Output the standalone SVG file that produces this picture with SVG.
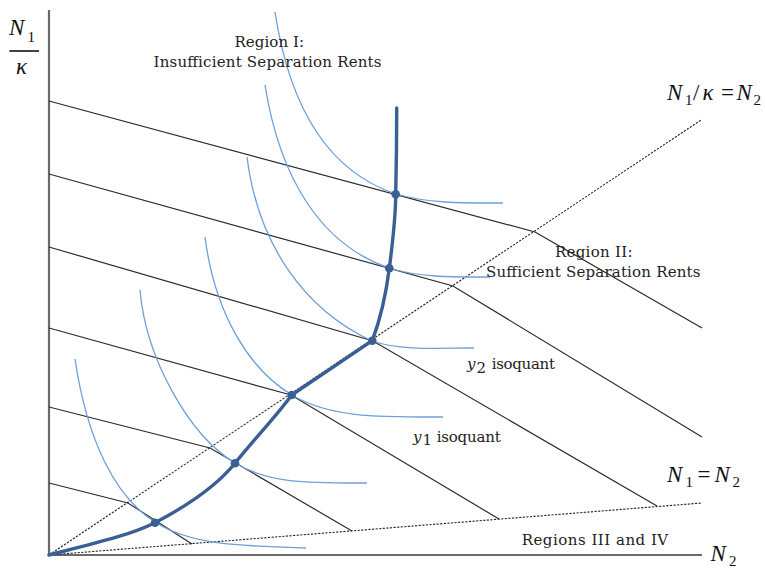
<svg xmlns="http://www.w3.org/2000/svg" width="765" height="568" viewBox="0 0 765 568">
<style>
.bl{fill:none;stroke:#2b2b2b;stroke-width:1.2}
.dot{fill:none;stroke:#222;stroke-width:1.1;stroke-dasharray:2.2 1.4}
.iso{fill:none;stroke:#6d9fd8;stroke-width:1.3}
.ep{fill:none;stroke:#3a5f94;stroke-width:3.4;stroke-linecap:round;stroke-linejoin:round}
.pt{fill:#3a5f94}
.ax{stroke:#6a6a6a;stroke-width:2.2}
.lab{font-family:'DejaVu Serif','Liberation Serif',serif;font-size:15px;fill:#222}
.m{font-family:'Liberation Serif','DejaVu Serif',serif;font-style:italic;font-size:23px;fill:#111}
.ms{font-family:'Liberation Serif','DejaVu Serif',serif;font-size:15px;fill:#111}
.mu{font-family:'Liberation Serif','DejaVu Serif',serif;font-size:23px;fill:#111}
</style>
<rect width="765" height="568" fill="#ffffff"/>
<g id="axes">
<line class="ax" x1="49" y1="10" x2="49" y2="556"/>
<line class="ax" x1="48" y1="555" x2="702" y2="555"/>
</g>
<g id="connectors">
<polyline class="bl" points="49,101 535,232 702,328"/>
<polyline class="bl" points="49,174 453,286 702,437"/>
<polyline class="bl" points="49,247 373,341 657,506"/>
<polyline class="bl" points="49,328 291,395 499,519"/>
<polyline class="bl" points="49,407 210,448 352,531"/>
<polyline class="bl" points="49,483 128,503 192,544"/>
<line class="dot" x1="49" y1="555" x2="701" y2="120"/>
<line class="dot" x1="49" y1="555" x2="702" y2="503"/>
</g>
<g id="isoquants">
<path class="iso" d="M75,359 C87,440 115,497 155,522 C190,545 240,546 306,548"/>
<path class="iso" d="M140,290 C146,360 190,436 235,463 C270,484 310,483 367,483"/>
<path class="iso" d="M205,237 C215,315 250,370 292,395 C330,418 380,417 443,417"/>
<path class="iso" d="M247,157 C258,245 305,310 372,341 C402,351 440,348 474,348"/>
<path class="iso" d="M265,85 C280,180 322,245 389,268 C420,278 460,277 490,277"/>
<path class="iso" d="M275,12 C290,110 330,172 396,194 C430,204 470,203 503,203"/>
</g>
<g id="expansion-path">
<path class="ep" d="M49,555 C100,542 130,535 155,522.7 C185,507 215,488 235,463.3 C255,438 275,418 291.7,395 L372.3,340.7 C380,320 386,295 389.3,268.3 C393,240 395.7,215 395.7,194.3 C396.5,160 396.7,130 396.7,108"/>
<circle class="pt" cx="155" cy="522.7" r="4.3"/>
<circle class="pt" cx="235" cy="463.3" r="4.3"/>
<circle class="pt" cx="291.7" cy="395" r="4.3"/>
<circle class="pt" cx="372.3" cy="340.7" r="4.3"/>
<circle class="pt" cx="389.3" cy="268.3" r="4.3"/>
<circle class="pt" cx="395.7" cy="194.3" r="4.3"/>
</g>
<g id="labels">
<text class="lab" x="234.5" y="46.5" textLength="69.5" lengthAdjust="spacing">Region I:</text>
<text class="lab" x="153.5" y="66.7" textLength="228" lengthAdjust="spacing">Insufficient Separation Rents</text>
<text class="lab" x="555" y="256.7" textLength="77.5" lengthAdjust="spacing">Region II:</text>
<text class="lab" x="486" y="277.3" textLength="214.5" lengthAdjust="spacing">Sufficient Separation Rents</text>
<text class="lab" x="521.7" y="545" textLength="146.5" lengthAdjust="spacing">Regions III and IV</text>
<text class="lab" x="467" y="369.3" font-style="italic">y</text>
<text class="lab" x="476.5" y="373" font-size="11">2</text>
<text class="lab" x="491.7" y="369.3" textLength="63.3" lengthAdjust="spacing">isoquant</text>
<text class="lab" x="413" y="441.7" font-style="italic">y</text>
<text class="lab" x="422.5" y="445.4" font-size="11">1</text>
<text class="lab" x="436.7" y="441.7" textLength="64" lengthAdjust="spacing">isoquant</text>
</g>
<g id="math-labels">
<text class="m" x="9" y="35">N</text>
<text class="ms" x="27.5" y="42">1</text>
<line x1="9.3" y1="51" x2="39" y2="51" stroke="#111" stroke-width="1.6"/>
<text class="m" x="16" y="74" font-size="25">κ</text>
<text class="m" x="667" y="100">N</text>
<text class="ms" x="685" y="105">1</text>
<text class="mu" x="693" y="100">/</text>
<text class="m" x="702.5" y="100">κ</text>
<text class="mu" x="721" y="100">=</text>
<text class="m" x="736.5" y="100">N</text>
<text class="ms" x="753.5" y="105">2</text>
<text class="m" x="667" y="481.7">N</text>
<text class="ms" x="685.5" y="486.5">1</text>
<text class="mu" x="697.5" y="481.7">=</text>
<text class="m" x="714.5" y="481.7">N</text>
<text class="ms" x="732.5" y="486.5">2</text>
<text class="m" x="710.5" y="560.5">N</text>
<text class="ms" x="729" y="566">2</text>
</g>
</svg>
